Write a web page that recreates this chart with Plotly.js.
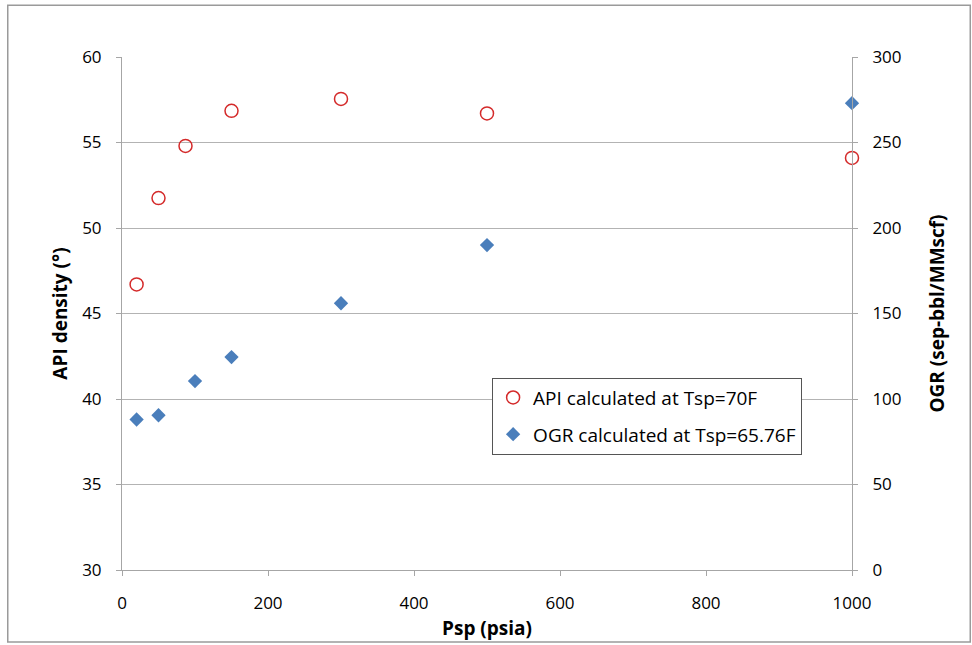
<!DOCTYPE html>
<html>
<head>
<meta charset="utf-8">
<script src="https://cdn.plot.ly/plotly-3.0.1.min.js"></script>
<style>
html,body{margin:0;padding:0;background:#fff;}
#chart{width:972px;height:645px;}
</style>
</head>
<body>
<div id="chart"></div>
<script>
const apiPsp = [20, 50, 87, 150, 300, 500, 1000];
const apiVal = [46.7, 51.75, 54.8, 56.85, 57.55, 56.7, 54.1];
const ogrPsp = [20, 50, 100, 150, 300, 500, 1000];
const ogrVal = [88, 90.5, 110.5, 124.5, 156, 190, 273];
const apiName = "API calculated at Tsp=70F";
const ogrName = "OGR calculated at Tsp=65.76F";

const font = "Open Sans, Liberation Sans, sans-serif";

const traces = [
  {x: apiPsp, y: apiVal, name: apiName, type: "scatter", mode: "markers", legendgroup: "a",
   marker: {symbol: "circle-open", size: 13, color: "#d42a2a", line: {width: 1.5, color: "#d42a2a"}},
   xaxis: "x", yaxis: "y", cliponaxis: false},
  {x: ogrPsp, y: ogrVal, name: ogrName, type: "scatter", mode: "markers", legendgroup: "b",
   marker: {symbol: "diamond", size: 11, color: "#4a7ebb"},
   xaxis: "x", yaxis: "y2", cliponaxis: false}
];

const layout = {
  width: 972, height: 645,
  margin: {l: 122, r: 120, t: 57, b: 75},
  paper_bgcolor: "#fff", plot_bgcolor: "#fff",
  font: {family: font, size: 17, color: "#000"},
  showlegend: true,
  legend: {x: 0.507, y: 0.375, xanchor: "left", yanchor: "top",
    bgcolor: "#fff", bordercolor: "#555", borderwidth: 1,
    font: {family: font, size: 19, color: "#000"}, itemwidth: 30, tracegroupgap: 9},
  xaxis: {range: [0, 1000], dtick: 200, tick0: 0, showgrid: false, zeroline: false,
    showline: true, linecolor: "#a6a6a6", linewidth: 1,
    ticks: "outside", ticklen: 5, tickcolor: "#a6a6a6", ticklabelstandoff: 13,
    title: {text: "<b>Psp (psia)</b>", font: {family: font, size: 19}, standoff: 8}},
  yaxis: {range: [30, 60], dtick: 5, showgrid: true, gridcolor: "#b3b3b3", zeroline: false,
    showline: true, linecolor: "#a6a6a6", ticks: "outside", ticklen: 5, tickcolor: "#a6a6a6",
    ticklabelstandoff: 11,
    title: {text: "<b>API density (°)</b>", font: {family: font, size: 19}, standoff: 9}},
  yaxis2: {range: [0, 300], dtick: 50, overlaying: "y", side: "right", showgrid: false, zeroline: false,
    showline: true, linecolor: "#a6a6a6", ticks: "outside", ticklen: 5, tickcolor: "#a6a6a6",
    ticklabelstandoff: 11,
    title: {text: "<b>OGR (sep-bbl/MMscf)</b>", font: {family: font, size: 19}, standoff: 30}},
  shapes: [
    {type: "rect", xref: "paper", yref: "paper", x0: -0.1565, x1: 1.1620, y0: -0.1403, y1: 1.1010,
     line: {color: "#9a9a9a", width: 1.5}, fillcolor: "rgba(0,0,0,0)", layer: "below"}
  ]
};

Plotly.newPlot("chart", traces, layout, {displayModeBar: false, staticPlot: true});
</script>
</body>
</html>
